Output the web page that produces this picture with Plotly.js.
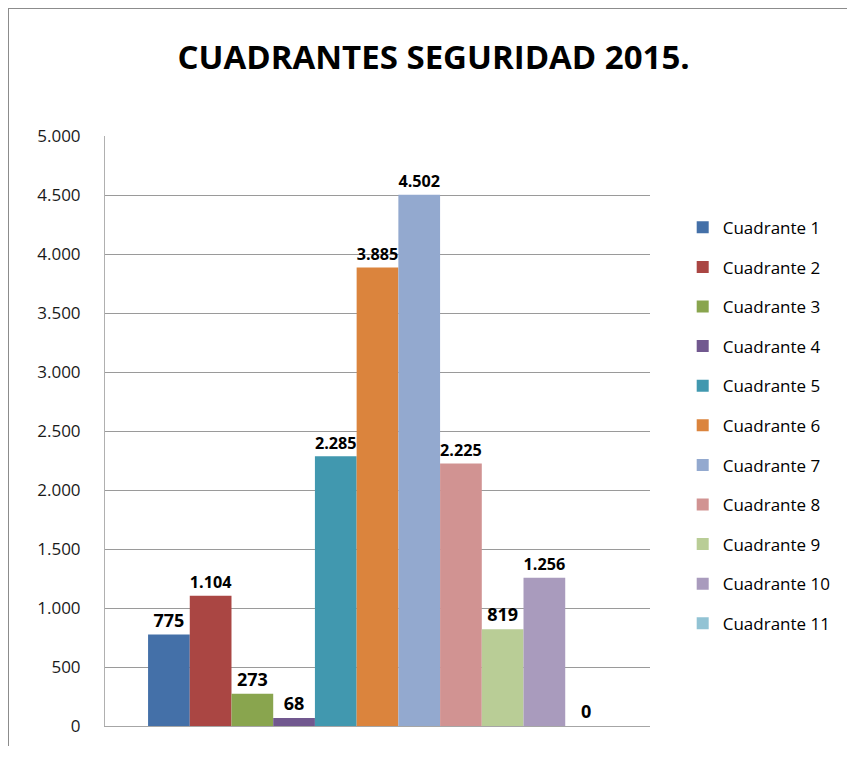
<!DOCTYPE html>
<html>
<head>
<meta charset="utf-8">
<script src="https://cdn.plot.ly/plotly-3.0.1.min.js"></script>
<style>
  html, body { margin: 0; padding: 0; background: #fff; }
  #wrap { position: relative; width: 847px; height: 762px; }
  #chart { width: 847px; height: 762px; }
  #frame { position: absolute; left: 8px; top: 8px; width: 839px; height: 737px;
           border-left: 1.5px solid #8c8c8c; border-top: 1.5px solid #8c8c8c; pointer-events: none; }
</style>
</head>
<body>
<div id="wrap">
  <div id="chart"></div>
  <div id="frame"></div>
</div>
<script>
const category = ['Cuadrantes'];
const seriesNames = ['Cuadrante 1','Cuadrante 2','Cuadrante 3','Cuadrante 4','Cuadrante 5','Cuadrante 6','Cuadrante 7','Cuadrante 8','Cuadrante 9','Cuadrante 10','Cuadrante 11'];
const seriesValues = [775, 1104, 273, 68, 2285, 3885, 4502, 2225, 819, 1256, 0];
const seriesColors = ['#4470A8','#AA4643','#89A54E','#71588F','#4198AF','#DB843D','#93A9CF','#D19392','#B9CD96','#A99BBD','#92C3D4'];
const yTicks = [0, 500, 1000, 1500, 2000, 2500, 3000, 3500, 4000, 4500, 5000];

const traces = seriesNames.map((name, i) => ({
  type: 'bar',
  name: name,
  x: category,
  y: [seriesValues[i]],
  marker: { color: seriesColors[i], line: { width: 0 } },
  texttemplate: '%{y:,d}',
  textposition: 'outside',
  textfont: { family: 'Open Sans, Noto Sans, sans-serif', size: 18, color: '#000', weight: 'bold' },
  cliponaxis: false,
  legendgroup: 'g' + i,
  hoverinfo: 'name+y'
}));

const layout = {
  width: 847,
  height: 762,
  paper_bgcolor: '#ffffff',
  plot_bgcolor: '#ffffff',
  separators: ',.',
  margin: { l: 105, r: 197, t: 136, b: 36, autoexpand: false },
  barmode: 'group',
  bargap: 0.158,
  bargroupgap: 0,
  title: {
    text: '<b>CUADRANTES SEGURIDAD 2015.</b>',
    font: { family: 'Open Sans, Noto Sans, sans-serif', size: 33, color: '#000' },
    x: 0.512, xanchor: 'center',
    y: 0.924, yanchor: 'middle'
  },
  xaxis: {
    showticklabels: false,
    ticks: '',
    showgrid: false,
    showline: true,
    linecolor: '#a6a6a6',
    linewidth: 1,
    zeroline: false,
    fixedrange: true
  },
  yaxis: {
    range: [0, 5000],
    tickvals: yTicks,
    tickformat: ',d',
    ticks: '',
    ticklabelstandoff: 20,
    tickfont: { family: 'Open Sans, Noto Sans, sans-serif', size: 17, color: '#1a1a1a' },
    showgrid: true,
    gridcolor: '#9a9a9a',
    gridwidth: 1,
    zeroline: true,
    zerolinecolor: '#9a9a9a',
    showline: true,
    linecolor: '#b0b0b0',
    fixedrange: true
  },
  legend: {
    x: 1.06, xanchor: 'left',
    y: 0.875, yanchor: 'top',
    font: { family: 'Open Sans, Noto Sans, sans-serif', size: 17, color: '#000' },
    traceorder: 'grouped',
    tracegroupgap: 14.5,
    itemwidth: 30,
    bgcolor: 'rgba(0,0,0,0)'
  },
  showlegend: true
};

Plotly.newPlot('chart', traces, layout, { displayModeBar: false, staticPlot: true });
</script>
</body>
</html>
